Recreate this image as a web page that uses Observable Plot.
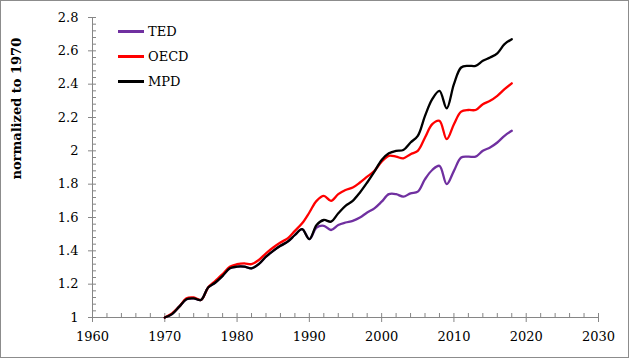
<!DOCTYPE html>
<html><head><meta charset="utf-8">
<script src="https://cdn.jsdelivr.net/npm/d3@7"></script>
<script src="https://cdn.jsdelivr.net/npm/@observablehq/plot@0.6"></script>
<style>
html,body{margin:0;padding:0;background:#fff;}
#chart{position:relative;width:629px;height:358px;}
#chart svg{display:block;outline:1px solid #8c8c8c;outline-offset:-1px;}
.legend{position:absolute;left:118px;top:19px;font-family:"DejaVu Serif",serif;font-size:13px;color:#000;}
.row{display:flex;align-items:center;height:25px;}
.sw{width:26px;height:2.5px;margin-right:4px;}
</style></head><body><div id="chart"></div>
<script>
const years = [1970,1971,1972,1973,1974,1975,1976,1977,1978,1979,1980,1981,1982,1983,1984,1985,1986,1987,1988,1989,1990,1991,1992,1993,1994,1995,1996,1997,1998,1999,2000,2001,2002,2003,2004,2005,2006,2007,2008,2009,2010,2011,2012,2013,2014,2015,2016,2017,2018];
const ted  = [1.00,1.02,1.065,1.11,1.115,1.105,1.18,1.21,1.25,1.295,1.305,1.305,1.295,1.32,1.365,1.40,1.43,1.455,1.495,1.53,1.47,1.54,1.55,1.525,1.555,1.57,1.58,1.60,1.63,1.655,1.695,1.74,1.74,1.725,1.745,1.755,1.83,1.885,1.91,1.80,1.88,1.96,1.965,1.965,2.00,2.02,2.05,2.09,2.12];
const oecd = [1.00,1.025,1.065,1.115,1.12,1.105,1.18,1.22,1.26,1.305,1.32,1.325,1.32,1.345,1.385,1.42,1.45,1.475,1.52,1.565,1.63,1.70,1.73,1.70,1.74,1.765,1.78,1.81,1.845,1.88,1.935,1.97,1.965,1.955,1.98,2.00,2.08,2.16,2.18,2.07,2.16,2.235,2.245,2.245,2.28,2.30,2.33,2.37,2.405];
const mpd  = [1.00,1.02,1.065,1.11,1.115,1.105,1.18,1.21,1.25,1.295,1.305,1.305,1.295,1.32,1.365,1.40,1.43,1.455,1.495,1.53,1.47,1.555,1.585,1.575,1.625,1.67,1.70,1.75,1.81,1.875,1.945,1.985,2.00,2.005,2.05,2.09,2.21,2.31,2.36,2.255,2.40,2.50,2.51,2.51,2.54,2.56,2.585,2.64,2.67];
const seriesNames = ["TED","OECD","MPD"];
const seriesColors = ["#7030A0","#FF0000","#000000"];
const xTicks = [1960,1970,1980,1990,2000,2010,2020,2030];
const yTicks = [1,1.2,1.4,1.6,1.8,2,2.2,2.4,2.6,2.8];
const yTickLabels = ["1","1.2","1.4","1.6","1.8","2","2.2","2.4","2.6","2.8"];
const yTitle = "normalized to 1970";

const seriesValues = [ted, oecd, mpd];
const xMinor = d3.range(0, 36).map(i => 1960 + 2 * i);
const yMinor = d3.range(0, 46).map(i => +(1 + 0.04 * i).toFixed(2));
const axisColor = "#868686";
const font = "DejaVu Serif, serif";

const lines = seriesValues.map((vals, s) =>
  Plot.line(years.map((y, i) => ({year: y, value: vals[i]})), {
    x: "year", y: "value", stroke: seriesColors[s], strokeWidth: 2.3, curve: "catmull-rom"
  })
);

const chart = Plot.plot({
  width: 629, height: 358,
  marginLeft: 92, marginRight: 31, marginTop: 17, marginBottom: 41,
  style: {fontFamily: font, fontSize: "13px", color: "#000", background: "#fff"},
  x: {domain: [1960, 2030], label: null},
  y: {domain: [1, 2.8], label: null},
  marks: [
    Plot.axisX({ticks: xMinor, tickSize: 4, dy: -4, tickFormat: () => "", stroke: axisColor, label: null}),
    Plot.axisX({ticks: xTicks, tickSize: 5, tickPadding: 9.5, tickFormat: d => String(d), stroke: axisColor, fill: "#000", fontSize: 13, label: null}),
    Plot.axisY({ticks: yMinor, tickSize: 4, dx: 4, tickFormat: () => "", stroke: axisColor, label: null}),
    Plot.axisY({ticks: yTicks, tickSize: 4, tickPadding: 10, tickFormat: d => yTickLabels[yTicks.indexOf(d)], stroke: axisColor, fill: "#000", fontSize: 13, label: null}),
    Plot.ruleY([1], {stroke: axisColor}),
    Plot.ruleX([1960], {stroke: axisColor}),
    ...lines,
    Plot.text([yTitle], {frameAnchor: "left", text: d => d, rotate: -90, dx: -76, dy: 12, fontWeight: "bold", fontSize: 13, fill: "#000"})
  ]
});
const root = document.getElementById("chart");
root.appendChild(chart);

const legend = document.createElement("div");
legend.className = "legend";
seriesNames.forEach((n, i) => {
  const row = document.createElement("div");
  row.className = "row";
  const sw = document.createElement("span");
  sw.className = "sw";
  sw.style.background = seriesColors[i];
  const t = document.createElement("span");
  t.textContent = n;
  row.appendChild(sw); row.appendChild(t);
  legend.appendChild(row);
});
root.appendChild(legend);
</script></body></html>
